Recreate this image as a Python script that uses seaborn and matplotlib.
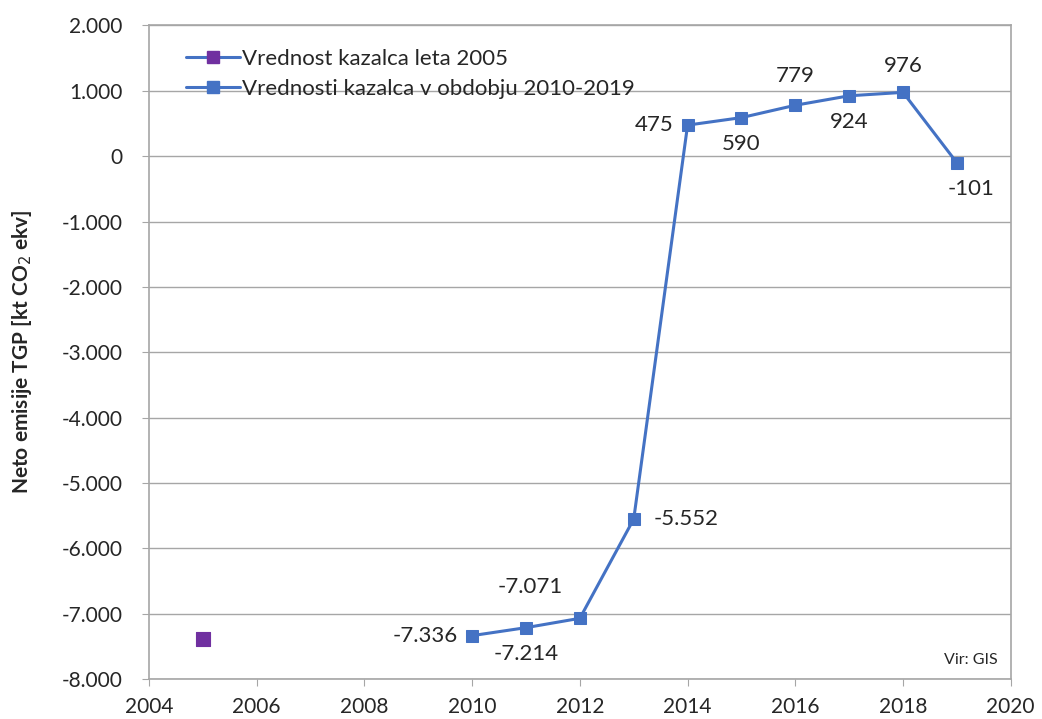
import matplotlib
matplotlib.use("Agg")
import matplotlib.pyplot as plt
from matplotlib.lines import Line2D
from matplotlib.ticker import FuncFormatter
import seaborn as sns
import pandas as pd

# podatki
leta = [2010, 2011, 2012, 2013, 2014, 2015, 2016, 2017, 2018, 2019]
vrednosti = [-7336, -7214, -7071, -5552, 475, 590, 779, 924, 976, -101]
leto_2005 = [2005]
vrednost_2005 = [-7380]

oznaka_1 = "Vrednost kazalca leta 2005"
oznaka_2 = "Vrednosti kazalca v obdobju 2010-2019"

modra = "#4472C4"
vijolicna = "#7030A0"

sns.set_style("white")
plt.rcParams['font.family'] = ['Lato', 'DejaVu Sans']

df = pd.DataFrame({"leto": leta, "vrednost": vrednosti})
df05 = pd.DataFrame({"leto": leto_2005, "vrednost": vrednost_2005})

fig = plt.figure(figsize=(10.42, 7.19), dpi=100)
ax = fig.add_axes([0.143, 0.0556, 0.827, 0.909])

ax.yaxis.grid(True, color="#a6a6a6", linewidth=1)
ax.set_axisbelow(True)

sns.lineplot(data=df, x="leto", y="vrednost", ax=ax, color=modra, linewidth=2.2,
             marker="s", markersize=8.5, markeredgecolor=modra, markerfacecolor=modra)
sns.scatterplot(data=df05, x="leto", y="vrednost", ax=ax, color=vijolicna,
                marker="s", s=100, edgecolor=vijolicna, zorder=5)

ax.set_xlim(2004, 2020)
ax.set_ylim(-8000, 2000)
ax.set_xticks(range(2004, 2021, 2))
ax.set_yticks(range(-8000, 2001, 1000))


def fmt(v, pos=None):
    v = int(round(v))
    s = f"{abs(v):,}".replace(",", ".")
    return ("-" + s) if v < 0 else s


ax.yaxis.set_major_formatter(FuncFormatter(fmt))
ax.tick_params(axis="both", labelsize=15, length=5, color="#a6a6a6", direction="out",
               left=True, bottom=True)
ax.tick_params(axis="y", pad=14)
ax.tick_params(axis="x", pad=8)
for s in ax.spines.values():
    s.set_color("#a6a6a6")
    s.set_linewidth(1.2)

ax.set_xlabel("")
ax.set_ylabel("Neto emisije TGP [kt CO$_2$ ekv]", fontsize=15, fontweight="bold", labelpad=20)

# oznake podatkov (offset v tockah)
odmiki = {
    2010: (-10, 0, "right", "center"),
    2011: (0, -12, "center", "top"),
    2012: (-12, 15, "right", "bottom"),
    2013: (14, 0, "left", "center"),
    2014: (-10, 0, "right", "center"),
    2015: (0, -12, "center", "top"),
    2016: (0, 14, "center", "bottom"),
    2017: (0, -12, "center", "top"),
    2018: (0, 12, "center", "bottom"),
    2019: (10, -12, "center", "top"),
}
for x, y in zip(leta, vrednosti):
    dx, dy, ha, va = odmiki[x]
    ax.annotate(fmt(y), (x, y), xytext=(dx, dy), textcoords="offset points",
                ha=ha, va=va, fontsize=16)

ax.text(0.985, 0.018, "Vir: GIS", transform=ax.transAxes, ha="right", va="bottom", fontsize=11.5)

roc = [
    Line2D([0], [0], color=modra, linewidth=2.2, marker="s", markersize=9,
           markerfacecolor=vijolicna, markeredgecolor=vijolicna),
    Line2D([0], [0], color=modra, linewidth=2.2, marker="s", markersize=9,
           markerfacecolor=modra, markeredgecolor=modra),
]
ax.legend(roc, [oznaka_1, oznaka_2], loc="upper left", frameon=False, fontsize=16,
          handlelength=2.4, handletextpad=0.1, labelspacing=0.45,
          bbox_to_anchor=(0.02, 0.995))

fig.savefig("out.png", dpi=100)
